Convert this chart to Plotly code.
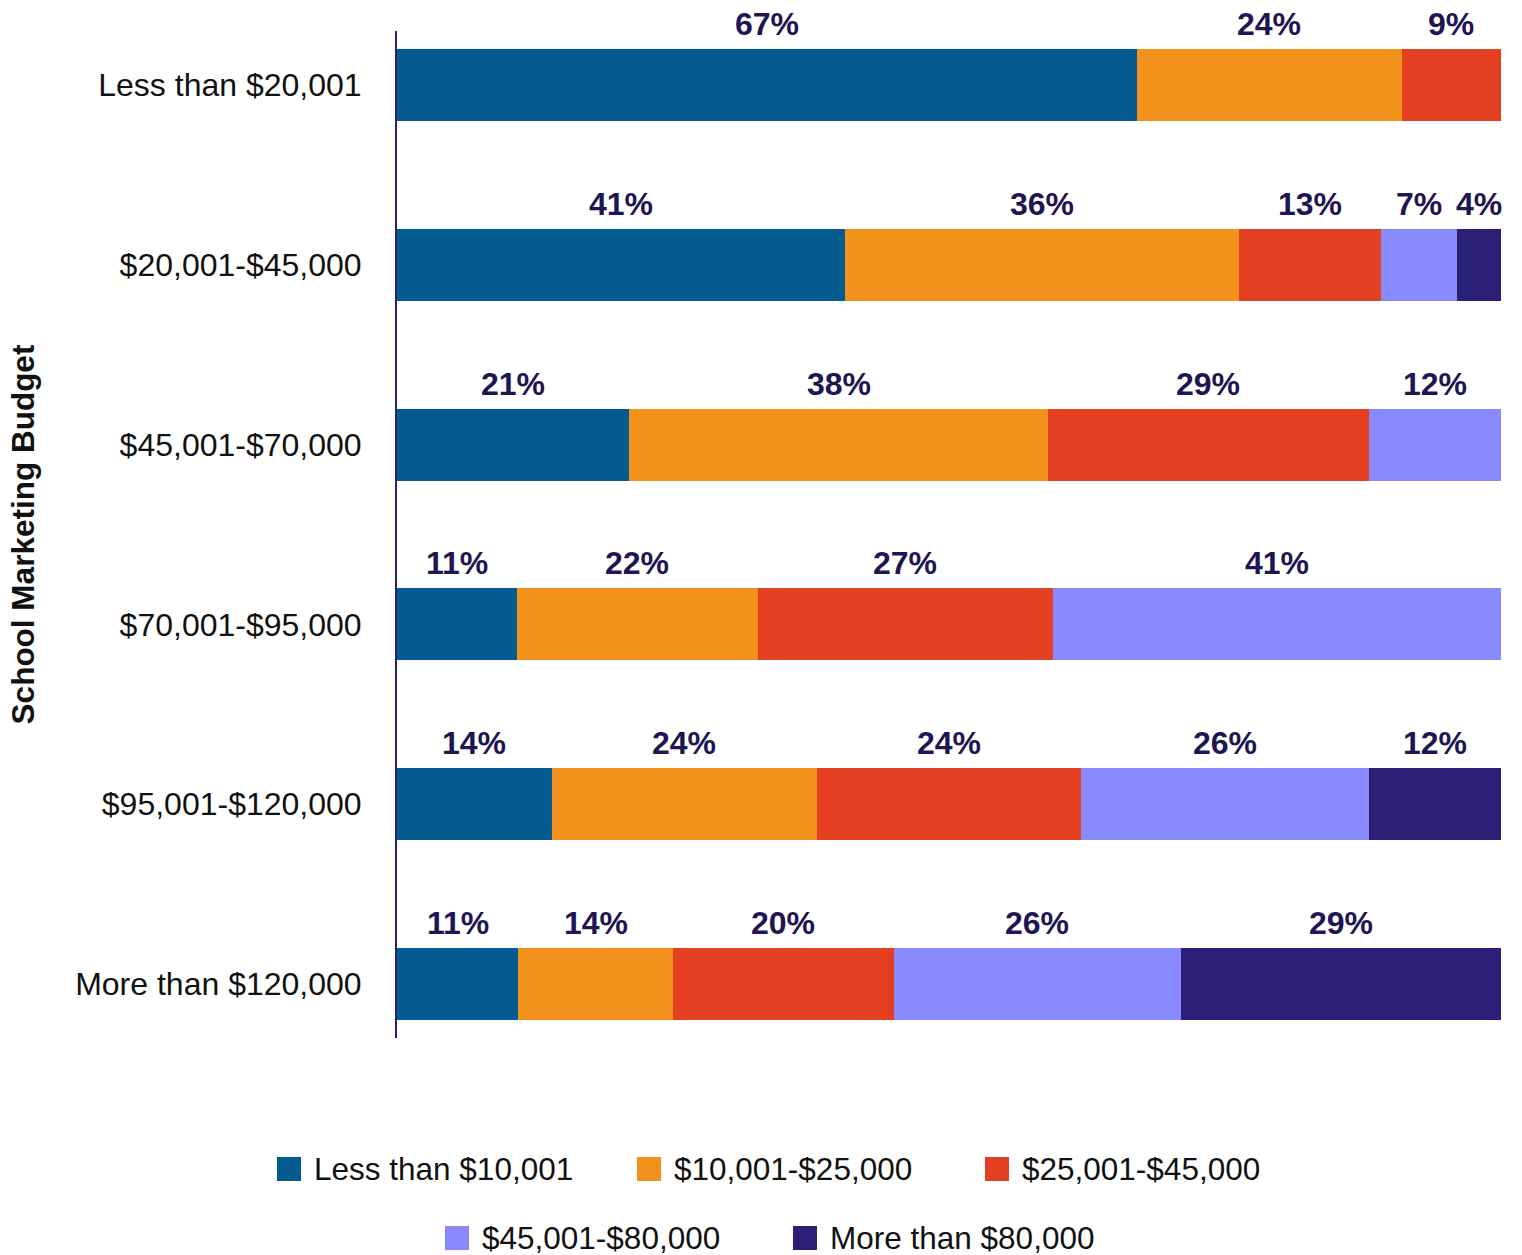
import plotly.graph_objects as go

# Survey: share of schools in each marketing-budget band by spend bracket (%)
budget_bands = [
    "Less than $20,001",
    "$20,001-$45,000",
    "$45,001-$70,000",
    "$70,001-$95,000",
    "$95,001-$120,000",
    "More than $120,000",
]
series_names = [
    "Less than $10,001",
    "$10,001-$25,000",
    "$25,001-$45,000",
    "$45,001-$80,000",
    "More than $80,000",
]
less_than_10k = [67, 41, 21, 11, 14, 11]
from_10k_to_25k = [24, 36, 38, 22, 24, 14]
from_25k_to_45k = [9, 13, 29, 27, 24, 20]
from_45k_to_80k = [None, 7, 12, 41, 26, 26]
more_than_80k = [None, 4, None, None, 12, 29]

series_values = [less_than_10k, from_10k_to_25k, from_25k_to_45k, from_45k_to_80k, more_than_80k]
colors = ["#035b8f", "#f2921d", "#e43f20", "#8789fc", "#2c1f76"]
label_color = "#1e1554"
font_family = "Liberation Sans, Arial, sans-serif"

# plot area in page pixels
W, H = 1522, 1255
PL, PR, PT, PB = 397, 1501, 31, 1038

fig = go.Figure()
for name, vals, col in zip(series_names, series_values, colors):
    fig.add_trace(go.Bar(
        y=budget_bands, x=vals, name=name, orientation="h",
        marker=dict(color=col, line=dict(width=0)),
        width=0.4, showlegend=False, hoverinfo="name+x",
    ))

# percentage labels centred above each segment (stack normalised to 100%)
annotations = []
for i, band in enumerate(budget_bands):
    row = [s[i] or 0 for s in series_values]
    total = sum(row)
    start = 0.0
    for v in row:
        if v:
            width = v * 100.0 / total
            annotations.append(dict(
                x=start + width / 2, y=band, xref="x", yref="y",
                text=f"{v}%", showarrow=False, yshift=61,
                font=dict(family=font_family, size=32, color=label_color, weight="bold"),
            ))
            start += width


def to_paper(px, py):
    return (px - PL) / (PR - PL), (PB - py) / (PB - PT)


# legend drawn as two centred rows of squares and labels
legend_slots = [(277, 1169), (637, 1169), (985, 1169), (445, 1238), (793, 1238)]
shapes = []
sq = 24
for name, col, (lx, ly) in zip(series_names, colors, legend_slots):
    x0, y0 = to_paper(lx, ly + sq / 2)
    x1, y1 = to_paper(lx + sq, ly - sq / 2)
    shapes.append(dict(type="rect", xref="paper", yref="paper", x0=x0, x1=x1, y0=y0, y1=y1,
                       fillcolor=col, line=dict(width=0)))
    tx, ty = to_paper(lx + 35, ly)
    annotations.append(dict(x=tx, y=ty, xref="paper", yref="paper", text=name,
                            showarrow=False, xanchor="left", yanchor="middle",
                            font=dict(family=font_family, size=31.5, color="#111111")))

fig.update_layout(
    barmode="stack",
    barnorm="percent",
    width=W, height=H,
    margin=dict(l=PL, r=W - PR, t=PT, b=H - PB, autoexpand=False),
    paper_bgcolor="white", plot_bgcolor="white",
    showlegend=False,
    annotations=annotations,
    shapes=shapes,
    font=dict(family=font_family, color="#111111"),
)
fig.update_xaxes(visible=False, range=[0, 100], fixedrange=True)
fig.update_yaxes(
    categoryorder="array", categoryarray=budget_bands,
    range=[5.3, -0.3],
    showline=True, linecolor="#2c1f76", linewidth=2,
    showgrid=False, zeroline=False,
    ticks="outside", ticklen=27, tickcolor="rgba(0,0,0,0)",
    tickfont=dict(family=font_family, size=32, color="#111111"),
    title=dict(text="School Marketing Budget", standoff=31,
               font=dict(family=font_family, size=31.5, color="#111111", weight="bold")),
    automargin=False,
)

fig.write_html("out.html")
